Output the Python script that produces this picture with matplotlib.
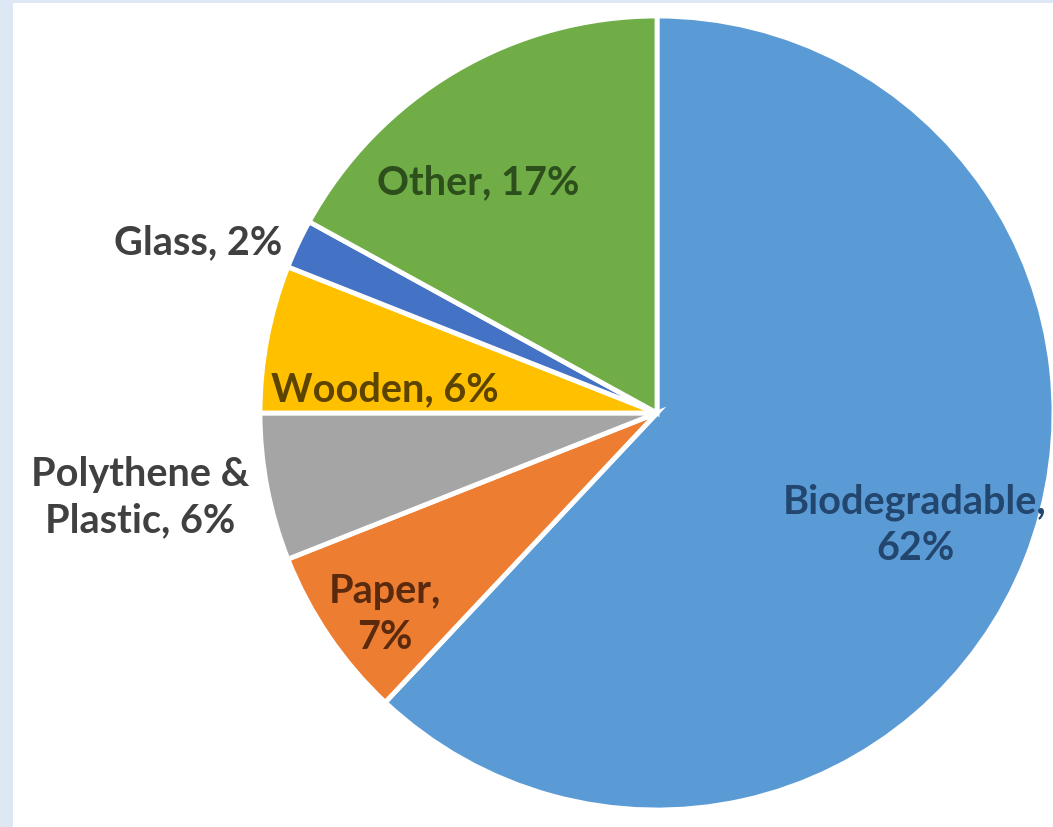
import matplotlib.pyplot as plt
from matplotlib.patches import Rectangle

# waste composition
labels = ['Biodegradable', 'Paper', 'Polythene &\nPlastic', 'Wooden', 'Glass', 'Other']
values = [62, 7, 6, 6, 2, 17]
colors = ['#5b9bd5', '#ed7d31', '#a5a5a5', '#ffc000', '#4472c4', '#70ad47']

# label text as shown on the chart
label_text = ['Biodegradable,\n62%', 'Paper,\n7%', 'Polythene &\nPlastic, 6%',
              'Wooden, 6%', 'Glass, 2%', 'Other, 17%']
label_colors = ['#22466e', '#5a2a0e', '#404040', '#5c4300', '#404040', '#2c4f1c']

W, H = 1053, 828
fig = plt.figure(figsize=(W / 100, H / 100), dpi=100)
fig.patch.set_facecolor('#dde8f4')
# white plot area inside the light blue frame
fig.add_artist(Rectangle((13 / W, 0), 1, (H - 4) / H, transform=fig.transFigure,
                         facecolor='white', edgecolor='none', zorder=0))

cx, cy, r = 657, 828 - 414, 397
half = 420
ax = fig.add_axes([(cx - half) / W, (cy - half) / H, 2 * half / W, 2 * half / H])
ax.set_facecolor('none')
wedges, _ = ax.pie(values, colors=colors, startangle=90, counterclock=False,
                   radius=1, wedgeprops=dict(edgecolor='white', linewidth=3.5))
lim = half / r
ax.set_xlim(-lim, lim)
ax.set_ylim(-lim, lim)
ax.set_aspect('equal')
ax.axis('off')

# label positions in pixels (from top-left)
pos_px = [(915, 525), (385, 615), (140, 498), (385, 390), (198, 243), (478, 183)]
for txt, (px, py), c in zip(label_text, pos_px, label_colors):
    fig.text(px / W, 1 - py / H, txt, ha='center', va='center', fontsize=28.5,
             color=c, family='Lato', fontweight='bold', linespacing=1.3)

fig.savefig('out.png', dpi=100)
